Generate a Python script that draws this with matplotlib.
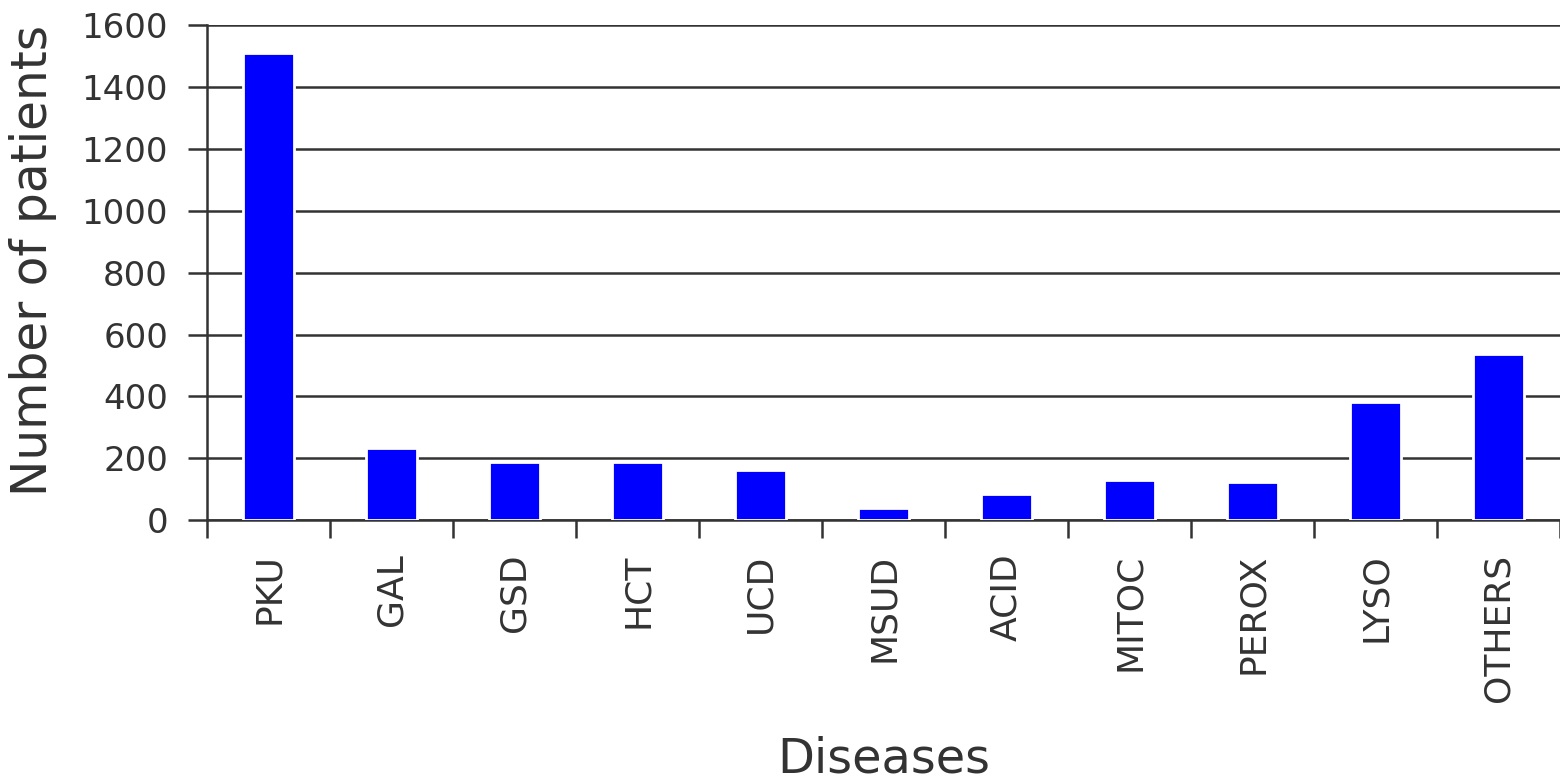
import numpy as np
import matplotlib
matplotlib.use('Agg')
import matplotlib.pyplot as plt

diseases = ['PKU', 'GAL', 'GSD', 'HCT', 'UCD', 'MSUD', 'ACID', 'MITOC', 'PEROX', 'LYSO', 'OTHERS']
patients = [1510, 232, 188, 188, 162, 39, 84, 129, 123, 382, 538]
y_ticks = [0, 200, 400, 600, 800, 1000, 1200, 1400, 1600]

text_color = '#333333'
plt.rcParams['font.family'] = ['DejaVu Sans']
plt.rcParams['text.color'] = text_color
plt.rcParams['axes.labelcolor'] = text_color
plt.rcParams['xtick.color'] = text_color
plt.rcParams['ytick.color'] = text_color


def draw_chart():
    fig = plt.figure(figsize=(15.6, 7.8), dpi=100)
    ax = fig.add_axes([0.1327, 0.333, 0.8673, 0.635])

    x = np.arange(len(diseases))
    ax.bar(x, patients, width=0.42, color='#0000ff', edgecolor='white',
           linewidth=2, zorder=3)

    # horizontal grid lines
    for t in y_ticks:
        ax.axhline(t, color='#333333', linewidth=1.8, zorder=1)

    ax.set_xlim(-0.5, len(diseases) - 0.5)
    ax.set_ylim(0, 1600)
    ax.set_yticks(y_ticks)
    ax.set_xticks(x)
    ax.set_xticklabels(diseases, rotation=90, fontsize=26)
    ax.set_xticks(np.arange(len(diseases) + 1) - 0.5, minor=True)
    ax.tick_params(axis='x', which='major', length=0, pad=24)
    ax.tick_params(axis='x', which='minor', length=13, width=1.8, color='#333333')
    ax.tick_params(axis='y', length=14, width=1.8, pad=14, labelsize=24.5, color='#333333')

    for side in ['top', 'right']:
        ax.spines[side].set_visible(False)
    for side in ['left', 'bottom']:
        ax.spines[side].set_color('#333333')
        ax.spines[side].set_linewidth(1.8)

    ax.set_ylabel('Number of patients', fontsize=35)
    ax.yaxis.set_label_coords(-0.111, 0.525)
    ax.set_xlabel('Diseases', fontsize=34.5, labelpad=24)

    fig.savefig('out.png', dpi=100)


if __name__ == '__main__':
    draw_chart()
